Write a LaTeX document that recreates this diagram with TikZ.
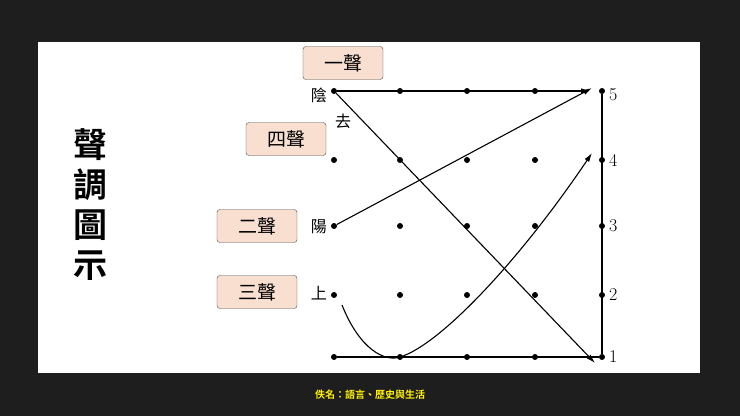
\documentclass[tikz,border=0pt]{standalone}
\usepackage{fontspec}
\newfontfamily\cjk{Noto Sans CJK TC}
\newfontfamily\cjkb{Noto Sans CJK TC Bold}
\usetikzlibrary{arrows.meta}
\definecolor{bg}{HTML}{1E1E1E}
\definecolor{boxfill}{HTML}{F8DFD0}
\begin{document}
\begin{tikzpicture}[x=1pt,y=-1pt,
  dot/.style={circle,fill=black,inner sep=0pt,minimum size=6pt},
  tbox/.style={draw=black!70,fill=boxfill,rounded corners=3pt,minimum width=80pt,minimum height=33pt,font=\cjk\fontsize{19}{19}\selectfont},
  lab/.style={font=\cjk\fontsize{16}{16}\selectfont,inner sep=0pt},
  num/.style={font=\fontsize{18}{18}\selectfont,inner sep=0pt},
  arr/.style={-{Latex[length=9pt,width=5.5pt]},line width=1.1pt}]
\fill[bg] (0,0) rectangle (740,416);
\fill[white] (38,42) rectangle (700,373);
\node[font=\cjkb\fontsize{34}{40}\selectfont,align=center] (title) at (90,205) {聲\\調\\圖\\示};
\foreach \c/\x in {1/334,2/400,3/467,4/535,5/602}{
  \foreach \r/\y in {5/91,4/160,3/226,2/295,1/357}{
    \node[dot] (d\c\r) at (\x,\y) {};
  }}
\draw[line width=1.5pt] (d55) -- (d51) -- (d11);
\draw[arr] (d15) -- ([xshift=-12pt]d55.center);
\draw[arr] (d15) -- ([xshift=-7pt,yshift=-6pt]d51.center);
\draw[arr] (d13) -- ([xshift=-10pt,yshift=3pt]d55.center);
\coordinate (s3) at (342,305);
\draw[arr] (s3) .. controls (360,350) and (385,362) .. (d21.center) .. controls (440,345) and (520,260) .. ([xshift=-10pt,yshift=7pt]d54.center);
\node[lab,anchor=east] (yin) at (327,95) {陰};
\node[lab] (qu) at (343,121) {去};
\node[lab,anchor=east] (yang) at (327,227) {陽};
\node[lab,anchor=east] (shang) at (327,293) {上};
\foreach \r/\y in {5/95,4/160,3/226,2/295,1/357}{
  \node[num,anchor=west] (n\r) at (609,\y) {\r};
}
\node[tbox] (t1) at (343,63) {一聲};
\node[tbox] (t4) at (286,139) {四聲};
\node[tbox] (t2) at (257,226) {二聲};
\node[tbox] (t3) at (257,292) {三聲};
\node[font=\cjkb\fontsize{10}{10}\selectfont,text=yellow] (foot) at (370,395) {佚名：語言、歷史與生活};
\end{tikzpicture}
\end{document}
